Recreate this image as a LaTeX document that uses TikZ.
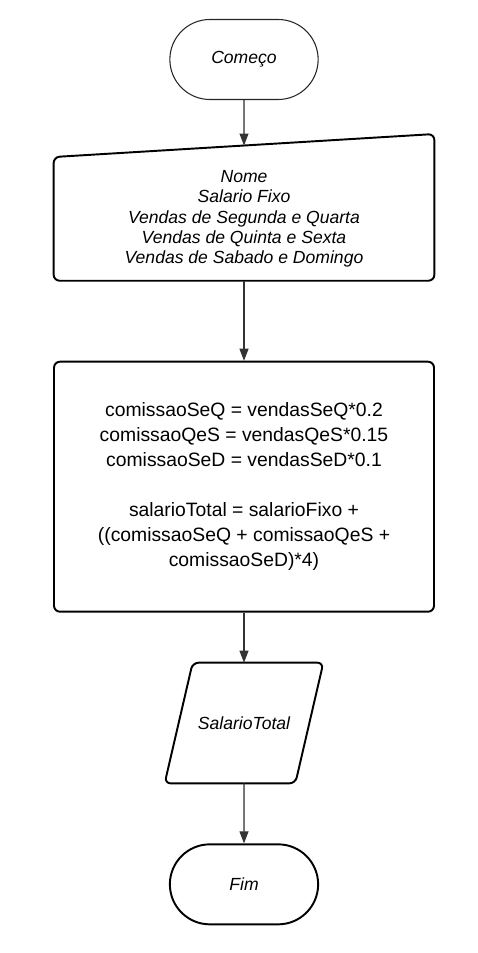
\documentclass[tikz,border=0pt]{standalone}
\usepackage{fontspec}
\setmainfont{Liberation Sans}
\usepackage{tikz}
\usetikzlibrary{positioning,arrows.meta,shapes.misc,calc}

\begin{document}
\begin{tikzpicture}[
  node distance=1cm,
  every node/.style={font=\fontsize{10}{11.6}\selectfont, align=center},
  bx/.style={line width=1.1pt, black},
  term/.style={bx, draw, rounded rectangle, minimum width=3.2cm, minimum height=1.6cm, font=\fontsize{10}{12}\selectfont\itshape},
  inbox/.style={minimum width=7.6cm, minimum height=2.46cm, inner sep=0pt, font=\fontsize{10}{11.6}\selectfont\itshape},
  proc/.style={bx, draw, rounded corners=0.12cm, minimum width=7.6cm, minimum height=5cm, font=\fontsize{11}{14.2}\selectfont},
  outbox/.style={minimum width=2.6cm, minimum height=2.4cm, inner sep=0pt, font=\fontsize{10}{12}\selectfont\itshape},
  flow/.style={-{Triangle[length=0.24cm, width=0.18cm]}, draw=black!80, fill=black!80, line width=0.6pt},
]
\useasboundingbox (0,0) rectangle (9.56,-19.06);

\node[term, line width=0.6pt, draw=black!85] (start) at (4.88,-1.19) {Começo};
\node[inbox, below=1.14cm of start] (inp) {Nome\\ Salario Fixo\\ Vendas de Segunda e Quarta\\ Vendas de Quinta e Sexta\\ Vendas de Sabado e Domingo};
\coordinate (inptop) at ($(inp.north)+(0,0.23)$);
\draw[bx, rounded corners=0.12cm] (inp.south) -- (inp.south west) -- (inp.north west) -- ($(inp.north east)+(0,0.46)$) -- (inp.south east) -- cycle;
\node[proc, below=1.6cm of inp] (comis) {comissaoSeQ = vendasSeQ*0.2\\ comissaoQeS = vendasQeS*0.15\\ comissaoSeD = vendasSeD*0.1\\[14.2pt] salarioTotal = salarioFixo +\\ ((comissaoSeQ + comissaoQeS +\\ comissaoSeD)*4)};
\node[outbox, below=1cm of comis] (outp) {SalarioTotal};
\draw[bx, rounded corners=0.12cm] (outp.south) -- ($(outp.south west)+(-0.28,0)$) -- ($(outp.north west)+(0.28,0)$) -- ($(outp.north east)+(0.28,0)$) -- ($(outp.south east)+(-0.28,0)$) -- cycle;
\node[term, below=1.2cm of outp] (fim) {Fim};

\draw[flow] (start) -- (inptop);
\draw[flow] (inp) -- (comis);
\draw[flow] (comis) -- (outp);
\draw[flow] (outp) -- (fim);
\end{tikzpicture}
\end{document}
